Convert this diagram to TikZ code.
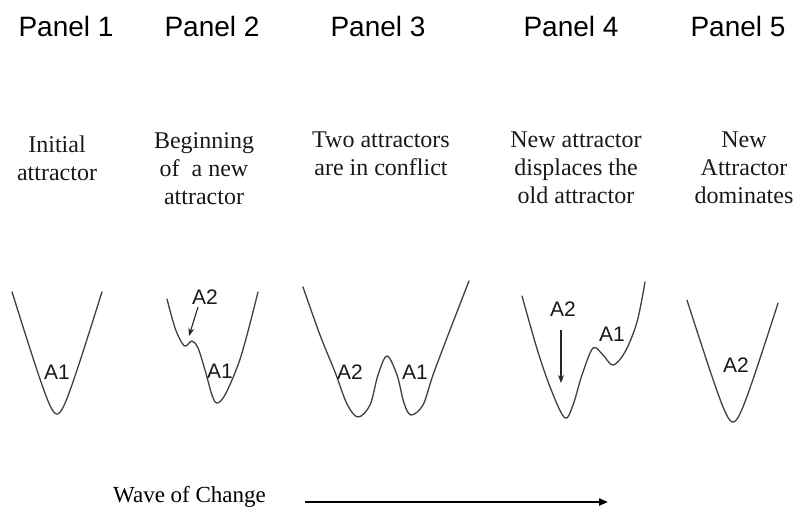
\documentclass[tikz,border=0pt]{standalone}
\usepackage{fontspec}
\setmainfont{Liberation Serif}
\newfontfamily\arialf{Liberation Sans}
\usetikzlibrary{arrows.meta}
\begin{document}
\begin{tikzpicture}[x=1pt,y=-1pt,
  title/.style={font=\arialf\fontsize{28}{32}\selectfont, anchor=base, inner sep=0},
  desc/.style={font=\fontsize{24}{28}\selectfont, align=center, anchor=north, inner sep=0, text=black!90},
  lab/.style={font=\arialf\fontsize{21}{24}\selectfont, inner sep=0, text=black!90},
  well/.style={draw=black!75, line width=1.3pt, line join=round, line cap=round},
  pt/.style={-{Stealth[length=8pt,width=6pt]}, line width=1.1pt, draw=black!85}
]
\useasboundingbox (0,0) rectangle (798,508);

% titles
\node[title] (t1) at (66,37) {Panel 1};
\node[title] (t2) at (212,37) {Panel 2};
\node[title] (t3) at (378,37) {Panel 3};
\node[title] (t4) at (571,37) {Panel 4};
\node[title] (t5) at (738,37) {Panel 5};

% descriptions
\node[desc] (d1) at (57,136) {Initial\\attractor};
\node[desc] (d2) at (204,132) {Beginning\\of\ \ a new\\attractor};
\node[desc] (d3) at (381,132) {Two attractors\\are in conflict};
\node[desc] (d4) at (576,132) {New attractor\\displaces the\\old attractor};
\node[desc] (d5) at (744,132) {New\\Attractor\\dominates};

% wells
\draw[well] plot[domain=12:102, samples=90] (\x, {414 - 3.24*(sqrt((\x-57)^2+64)-8)});
\draw[well] plot[smooth, tension=0.55] coordinates {(167,299) (175,328) (182,343) (186,346) (192,341) (198,348) (205,370) (212,395) (217,403) (225,395) (238,365) (247,335) (258,292)};
\draw[well] plot[smooth, tension=0.55] coordinates {(303,287) (320,335) (335,372) (347,404) (358,417) (370,405) (378,375) (387,356) (397,375) (404,403) (411,415) (423,405) (433,375) (450,330) (469,281)};
\draw[well] plot[smooth, tension=0.55] coordinates {(522,296) (538,352) (552,392) (565,418) (573,405) (582,375) (593,348) (603,355) (613,365) (625,352) (637,322) (645,282)};
\draw[well] plot[domain=687:778, samples=90] (\x, {422 - 3.15*(sqrt((\x-733)^2+64)-8)});

% labels
\node[lab] (p1a1) at (57,372) {A1};
\node[lab] (p2a2) at (205,297) {A2};
\node[lab] (p2a1) at (220,371) {A1};
\node[lab] (p3a2) at (350,372) {A2};
\node[lab] (p3a1) at (415,372) {A1};
\node[lab] (p4a2) at (563,309) {A2};
\node[lab] (p4a1) at (612,334) {A1};
\node[lab] (p5a2) at (736,365) {A2};

% small arrows
\coordinate (p2s) at (198,307);
\coordinate (p2e) at (189,336);
\draw[pt] (p2s) -- (p2e);
\coordinate (p4s) at (561,330);
\coordinate (p4e) at (561,383);
\draw[pt] (p4s) -- (p4e);

% wave of change
\node[font=\fontsize{23}{26}\selectfont, anchor=base west, inner sep=0] (wave) at (113,502) {Wave of Change};
\coordinate (ws) at (305,502);
\coordinate (we) at (608,502);
\draw[line width=2pt, -{Triangle[length=9pt,width=7pt]}] (ws) -- (we);
\end{tikzpicture}
\end{document}
